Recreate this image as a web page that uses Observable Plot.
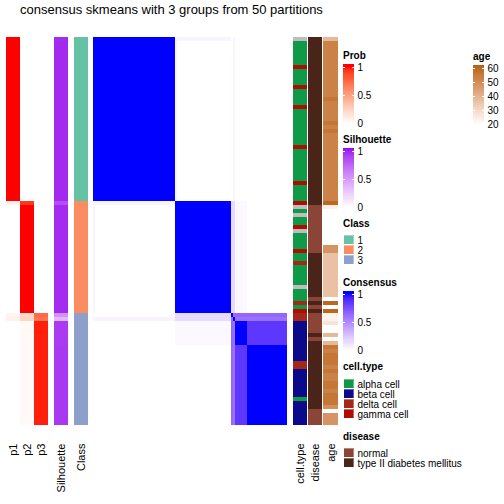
<!DOCTYPE html>
<html><head><meta charset="utf-8">
<script src="https://cdn.jsdelivr.net/npm/d3@7"></script>
<script src="https://cdn.jsdelivr.net/npm/@observablehq/plot@0.6"></script>
<style>
body{margin:0;background:#fff;}
#root{position:relative;width:504px;height:504px;overflow:hidden;font-family:"Liberation Sans",Arial,Helvetica,sans-serif;color:#000;}
.abs{position:absolute;}
#root svg{max-width:none !important;}
#root svg rect{shape-rendering:crispEdges;}
.ttl{position:absolute;font-weight:bold;font-size:10px;line-height:12px;white-space:nowrap;}
</style></head><body><div id="root"></div>
<script>
// ---------------- data ----------------
const titleText = "consensus skmeans with 3 groups from 50 partitions";
const classNames = ["1","2","3"];
const classColors = ["#66c2a5","#fc8d62","#8da0cb"];
// sample order of the heatmap, described as consecutive subgroups
const subgroupNames = ["G1a","G1","G2a","G2","A","B","C","D"];
const subgroupSizes = [1,40,1,27,1,1,6,20];
const subgroupClass = ["1","1","2","2","3","3","3","3"];
const subgroupP1 = [1,1,0.08,0,0.06,0.08,0,0];
const subgroupP2 = [0,0,0.92,1,0.2,0.22,0.03,0.03];
const subgroupP3 = [0,0,0,0,0.74,0.7,0.97,0.97];
const subgroupSilhouette = [0.97,0.98,0.85,0.97,0.55,0.35,0.92,0.93];
// consensus between subgroups (row subgroup x column subgroup)
const consensusBlocks = [
 [1,1,0.04,0.04,0,0.05,0,0],
 [1,1,0.04,0,0,0.05,0,0],
 [0.04,0.04,1,1,0.15,0.15,0.03,0],
 [0.04,0,1,1,0.15,0.15,0.03,0],
 [0,0,0.15,0.15,1,0.6,0.65,0.65],
 [0.05,0.05,0.15,0.15,0.6,1,0.6,0.6],
 [0,0,0.03,0.03,0.65,0.6,1,0.85],
 [0,0,0,0,0.65,0.6,0.85,1]
];
// annotations, run-length encoded [value, count] in heatmap row order
const cellTypeRuns = [["NA",1],["alpha cell",6],["gamma cell",1],["alpha cell",4],["gamma cell",1],["alpha cell",4],["gamma cell",1],["alpha cell",9],["gamma cell",1],["alpha cell",8],["gamma cell",1],["alpha cell",4],
 ["gamma cell",1],["NA",1],["alpha cell",1],["NA",1],["alpha cell",2],["gamma cell",1],["NA",1],["alpha cell",4],["gamma cell",1],["alpha cell",2],["delta cell",1],["alpha cell",5],["NA",1],["alpha cell",3],["delta cell",1],["alpha cell",1],["gamma cell",1],
 ["delta cell",2],["beta cell",10],["delta cell",2],["beta cell",7],["alpha cell",1],["beta cell",6]];
const diseaseRuns = [["type II diabetes mellitus",42],["normal",12],["type II diabetes mellitus",11],["normal",1],["type II diabetes mellitus",1],["normal",1],["type II diabetes mellitus",1],["normal",5],["type II diabetes mellitus",1],["normal",1],["type II diabetes mellitus",17],["normal",4]];
const ageRuns = [[38,1],[53,14],[56,1],[53,5],[56,1],[53,1],[56,1],[53,17],
 [60,1],[24,1],[null,9],[48,2],[36,11],[null,1],[60,1],[null,1],[60,1],
 [23,2],[27,1],[null,2],[38,1],[null,1],[38,1],[56,1],[53,1],[56,3],[53,1],[56,1],[53,2],[56,2],[53,1],[56,3],[49,1],[null,1],[48,3]];
const cellTypeNames = ["alpha cell","beta cell","delta cell","gamma cell"];
const cellTypeColors = ["#0f9a47","#0b0a8a","#a3281a","#b10c02"];
const diseaseNames = ["normal","type II diabetes mellitus"];
const diseaseColors = ["#8b4537","#4a2419"];
const probTicks = [0,0.5,1];
const ageTicks = [20,30,40,50,60];

// ---------------- build tables ----------------
const expand = runs => runs.flatMap(([v,n]) => Array(n).fill(v));
const cellTypes = expand(cellTypeRuns), diseases = expand(diseaseRuns), ages = expand(ageRuns);
const rows = [];
subgroupNames.forEach((g,k) => { for (let j=0;j<subgroupSizes[k];j++) { const i = rows.length; rows.push({i, g:k, cls:subgroupClass[k], p1:subgroupP1[k], p2:subgroupP2[k], p3:subgroupP3[k], sil:subgroupSilhouette[k], cellType:cellTypes[i], disease:diseases[i], age:ages[i]}); } });
const idx = rows.map(r => r.i);
const consensus = rows.flatMap(r => rows.map(c => ({r:r.i, c:c.i, v:consensusBlocks[r.g][c.g]})));
const probLong = rows.flatMap(r => [{x:"p1",i:r.i,v:r.p1},{x:"p2",i:r.i,v:r.p2},{x:"p3",i:r.i,v:r.p3}]);

const probColor = {type:"linear", domain:[0,1], range:["white","red"], interpolate:"lab"};
const silColor = {type:"linear", domain:[0,1], range:["white","#a020f0"], interpolate:"lab"};
const consColor = {type:"linear", domain:[0,1], range:["white","blue"], interpolate:"lab"};
const ageColor = {type:"linear", domain:[20,60], range:["white","#bb6820"], interpolate:"lab"};
const classColor = {type:"ordinal", domain:classNames, range:classColors};
const ctColor = {type:"ordinal", domain:[...cellTypeNames,"NA"], range:[...cellTypeColors,"#bebebe"]};
const disColor = {type:"ordinal", domain:diseaseNames, range:diseaseColors};

const root = document.getElementById("root");
function place(node, left, top) { const d = document.createElement("div"); d.className="abs"; d.style.left=left+"px"; d.style.top=top+"px"; d.appendChild(node); root.appendChild(d); }
const font = {fontFamily:"'Liberation Sans',Arial,Helvetica,sans-serif", fontSize:"11px", background:"transparent", overflow:"visible", maxWidth:"none"};

const TOP = 23, BODY = 416, BOTTOM = 65;
function column({data, xDomain, x, fill, color, width, showAxis=true}) {
  return Plot.plot({
    width, height: BODY+BOTTOM, marginTop:0, marginBottom:BOTTOM, marginLeft:0, marginRight:0,
    style: font,
    x: showAxis ? {type:"band", domain:xDomain, padding:0, tickSize:0, tickPadding:4, tickRotate:-90, label:null} : {type:"band", domain:xDomain, padding:0, axis:null},
    y: {type:"band", domain:idx, padding:0, axis:null},
    color,
    marks: [Plot.cell(data, {x, y:"i", fill, inset:0})]
  });
}

// title
const t = document.createElement("div");
t.textContent = titleText;
t.style.cssText = "position:absolute;left:0;top:3px;width:343px;text-align:center;font-size:13px;line-height:13px;white-space:nowrap;";
root.appendChild(t);

place(column({data:probLong, xDomain:["p1","p2","p3"], x:"x", fill:"v", color:probColor, width:43}), 5, TOP);
place(column({data:rows, xDomain:["Silhouette"], x:() => "Silhouette", fill:"sil", color:silColor, width:14}), 54, TOP);
place(column({data:rows, xDomain:["Class"], x:() => "Class", fill:"cls", color:classColor, width:14}), 74, TOP);
place(Plot.plot({
  width:194, height:BODY, margin:0, style:font,
  x:{type:"band", domain:idx, padding:0, axis:null},
  y:{type:"band", domain:idx, padding:0, axis:null},
  color:consColor,
  marks:[Plot.cell(consensus, {x:"c", y:"r", fill:"v", inset:0})]
}), 93, TOP);
place(column({data:rows, xDomain:["cell.type"], x:() => "cell.type", fill:d => d.cellType, color:ctColor, width:14}), 293, TOP);
place(column({data:rows, xDomain:["disease"], x:() => "disease", fill:"disease", color:disColor, width:14}), 308, TOP);
place(column({data:rows.filter(r => r.age != null), xDomain:["age"], x:() => "age", fill:"age", color:ageColor, width:15}), 323, TOP);

// ---------------- legends ----------------
function title(text, left, center) {
  const d = document.createElement("div"); d.className="ttl"; d.textContent=text;
  d.style.left=left+"px"; d.style.top=(center-6)+"px"; root.appendChild(d);
}
function ramp(text, left, T, color, ticks, fmt) {
  title(text, left, T);
  const [lo, hi] = color.domain, ext = (hi-lo)*0.05;
  const n = 60, slices = d3.range(n).map(k => ({a: lo-ext + (hi-lo+2*ext)*k/n, b: lo-ext + (hi-lo+2*ext)*(k+1)/n}));
  place(Plot.plot({
    width:40, height:64, marginTop:3, marginBottom:5, marginLeft:0, marginRight:0,
    style:{...font, fontSize:"10px"},
    x:{domain:[0,1], range:[0,11], axis:null},
    y:{domain:[lo,hi], range:[59,3], axis:null},
    color,
    marks:[
      Plot.rect(slices, {x1:0, x2:1, y1:"a", y2:"b", fill:d => (d.a+d.b)/2}),
      Plot.ruleY(ticks, {x1:0, x2:0.18, stroke:"white", strokeWidth:1}),
      Plot.ruleY(ticks, {x1:0.82, x2:1, stroke:"white", strokeWidth:1}),
      Plot.text(ticks, {x:1, y:d => d, text:fmt, dx:3, textAnchor:"start", fill:"black"})
    ]
  }), left, T+8);
}
function swatches(text, left, T, names, colors) {
  title(text, left, T);
  place(Plot.plot({
    width:160, height:names.length*10.8, margin:0,
    style:{...font, fontSize:"10px"},
    x:{type:"band", domain:["s"], range:[0,11], padding:0, axis:null},
    y:{type:"band", domain:names, padding:0, axis:null},
    color:{type:"ordinal", domain:names, range:colors},
    marks:[
      Plot.cell(names, {x:() => "s", y:d => d, fill:d => d, stroke:"white", strokeOpacity:0.35, strokeWidth:1, inset:0.5}),
      Plot.text(names, {x:() => "s", y:d => d, text:d => d, dx:8.5, textAnchor:"start", fill:"black"})
    ]
  }), left, T+10);
}
ramp("Prob", 343, 56, probColor, probTicks, d => d === 0.5 ? "0.5" : String(d));
ramp("Silhouette", 343, 140, silColor, probTicks, d => String(d));
swatches("Class", 343, 224, classNames, classColors);
ramp("Consensus", 343, 283, consColor, probTicks, d => String(d));
swatches("cell.type", 343, 367, cellTypeNames, cellTypeColors);
swatches("disease", 343, 437, diseaseNames, diseaseColors);
ramp("age", 473, 57, ageColor, ageTicks, d => String(d));
</script></body></html>
